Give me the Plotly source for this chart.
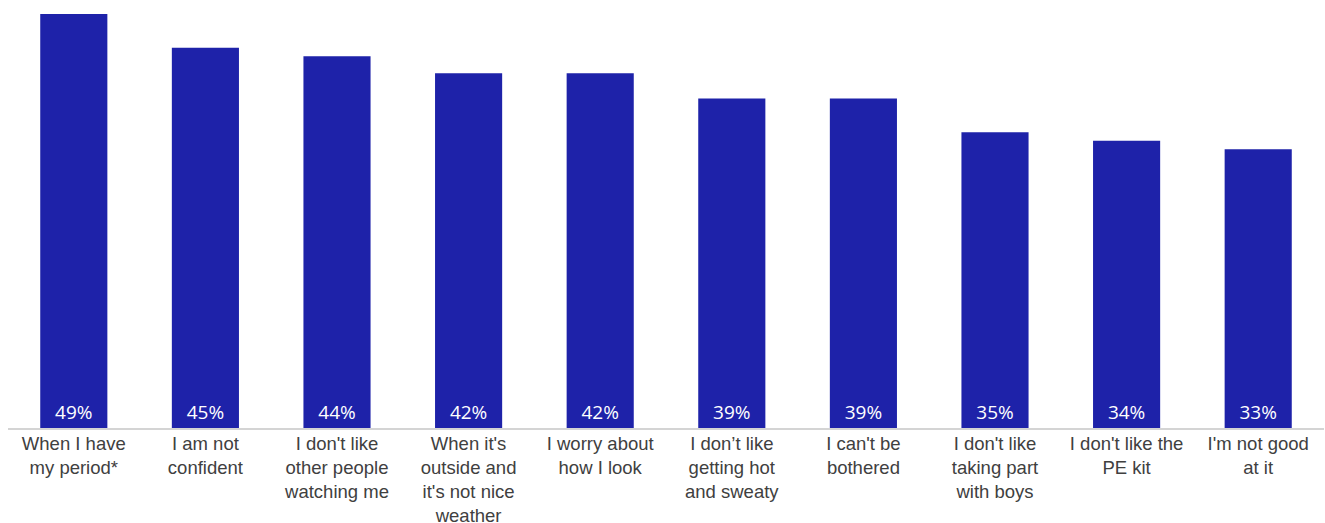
import plotly.graph_objects as go

# Reasons girls give for not enjoying PE (% of respondents)
reasons = [
    "When I have<br>my period*",
    "I am not<br>confident",
    "I don't like<br>other people<br>watching me",
    "When it's<br>outside and<br>it's not nice<br>weather",
    "I worry about<br>how I look",
    "I don\u2019t like<br>getting hot<br>and sweaty",
    "I can't be<br>bothered",
    "I don't like<br>taking part<br>with boys",
    "I don't like the<br>PE kit",
    "I'm not good<br>at it",
]
percent = [49, 45, 44, 42, 42, 39, 39, 35, 34, 33]

BAR_COLOR = "#1E22A9"

fig = go.Figure(
    go.Bar(
        x=reasons,
        y=percent,
        marker=dict(color=BAR_COLOR, line=dict(width=0)),
        texttemplate="%{y}%",
        textposition="inside",
        insidetextanchor="start",
        textangle=0,
        textfont=dict(family="Open Sans, sans-serif", size=19, color="white"),
        cliponaxis=False,
    )
)

fig.update_layout(
    width=1325,
    height=523,
    margin=dict(l=8, r=1, t=0, b=95, autoexpand=False),
    paper_bgcolor="white",
    plot_bgcolor="white",
    bargap=0.49,
    showlegend=False,
    uniformtext=dict(minsize=19, mode="show"),
)
fig.update_xaxes(
    automargin=False,
    showline=True,
    linecolor="#D4D4D4",
    linewidth=2,
    showgrid=False,
    ticks="",
    tickangle=0,
    ticklabelstandoff=-2,
    tickfont=dict(family="Liberation Sans, Arial, sans-serif", size=18.5, color="#404040"),
)
fig.update_yaxes(
    range=[0, 50.66],
    visible=False,
    showgrid=False,
    zeroline=False,
)

fig.write_html("out.html")
